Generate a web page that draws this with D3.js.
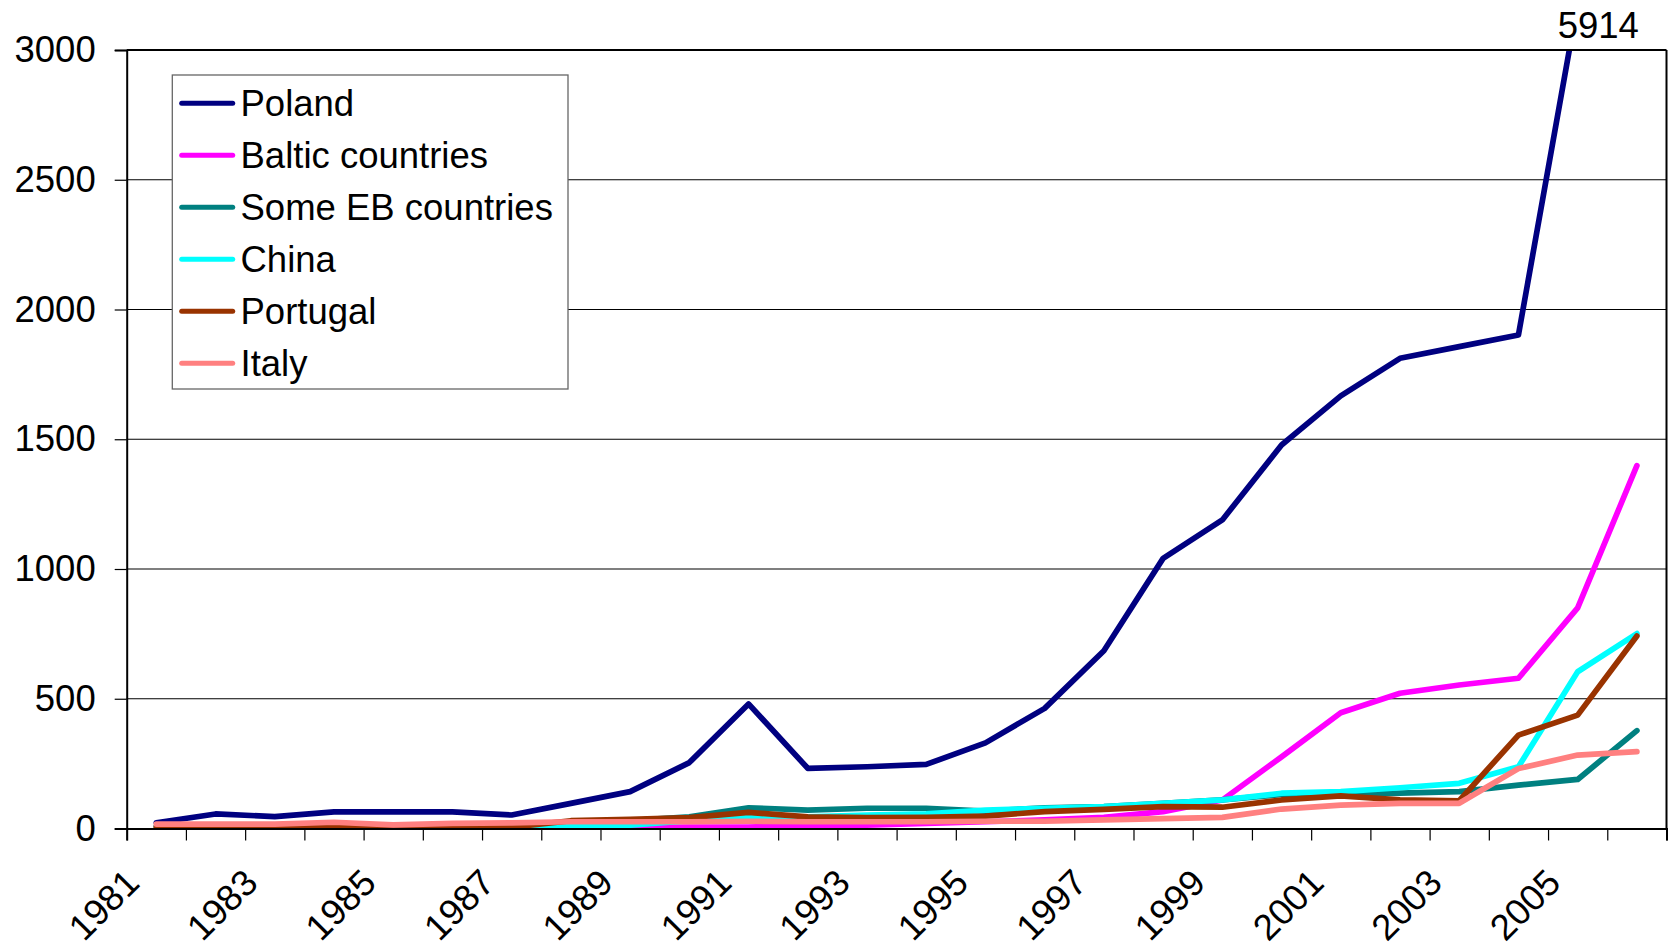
<!DOCTYPE html>
<html>
<head>
<meta charset="utf-8">
<script src="https://cdn.jsdelivr.net/npm/d3@7"></script>
<style>
  html, body { margin: 0; padding: 0; background: #fff; }
  svg { display: block; }
  text { font-family: "Liberation Sans", Arial, sans-serif; fill: #000; }
</style>
</head>
<body>
<svg id="chart" width="1668" height="948"></svg>
<script>
// ---------- data ----------
const years = ["1981","1982","1983","1984","1985","1986","1987","1988","1989","1990",
               "1991","1992","1993","1994","1995","1996","1997","1998","1999","2000",
               "2001","2002","2003","2004","2005","2006"];
const xTickLabels = ["1981","1983","1985","1987","1989","1991","1993","1995","1997","1999","2001","2003","2005"];
const yTickValues = [0, 500, 1000, 1500, 2000, 2500, 3000];

const seriesNames = ["Poland", "Baltic countries", "Some EB countries", "China", "Portugal", "Italy"];
const seriesColors = ["#000080", "#FF00FF", "#008080", "#00FFFF", "#993300", "#FF8080"];

const poland   = [22, 56, 46, 64, 64, 64, 52, 97, 142, 254, 480, 232, 238, 247, 330, 463, 685, 1041, 1189, 1478, 1667, 1812, 1857, 1902, 3180, 5914];
const baltic   = [null, null, null, null, null, null, null, 0, 3, 5, 5, 13, 13, 20, 26, 33, 43, 65, 110, 276, 446, 521, 553, 579, 850, 1398];
const someEB   = [8, 8, 8, 10, 8, 10, 10, 20, 30, 45, 80, 71, 78, 78, 67, 80, 84, 97, 110, 131, 131, 136, 142, 167, 189, 377];
const china    = [null, null, null, null, null, null, 0, 8, 13, 30, 48, 45, 52, 56, 71, 78, 84, 97, 110, 136, 142, 157, 174, 238, 604, 751];
const portugal = [5, 5, 5, 8, 5, 5, 5, 30, 35, 42, 62, 45, 42, 43, 48, 65, 74, 84, 82, 110, 126, 110, 107, 360, 437, 742];
const italy    = [17, 17, 17, 24, 14, 20, 22, 26, 26, 26, 28, 26, 26, 26, 28, 28, 33, 38, 43, 75, 90, 97, 97, 231, 283, 296];

const offScaleLabel = "5914";

const seriesValues = [poland, baltic, someEB, china, portugal, italy];

// ---------- layout ----------
const L = 126.7, R = 1666.5, T = 50, B = 828.5;
const FS = "36.5px";
const svg = d3.select("#chart");

const x = d3.scalePoint().domain(years).range([L, R]).padding(0.5);
const xEdge = d3.scaleLinear().domain([0, years.length]).range([L, R]);
const y = d3.scaleLinear().domain([0, 3000]).range([B, T]);

// gridlines
svg.append("g")
  .selectAll("line")
  .data(yTickValues.filter(v => v > 0 && v < 3000))
  .join("line")
  .attr("x1", L).attr("x2", R)
  .attr("y1", d => y(d)).attr("y2", d => y(d))
  .attr("stroke", "#000").attr("stroke-width", 1.2);

// clip
svg.append("defs").append("clipPath").attr("id", "plotClip")
  .append("rect").attr("x", L).attr("y", T).attr("width", R - L).attr("height", B - T);

// lines
const line = d3.line()
  .defined(d => d.v !== null)
  .x(d => x(d.year))
  .y(d => y(d.v));

const gLines = svg.append("g").attr("clip-path", "url(#plotClip)");
seriesValues.forEach((vals, i) => {
  const pts = years.map((yr, j) => ({ year: yr, v: vals[j] }));
  gLines.append("path")
    .attr("d", line(pts))
    .attr("fill", "none")
    .attr("stroke", seriesColors[i])
    .attr("stroke-width", 5.7)
    .attr("stroke-linecap", "round")
    .attr("stroke-linejoin", "round");
});

// plot border (top / right)
svg.append("line").attr("x1", L).attr("x2", R).attr("y1", T).attr("y2", T)
  .attr("stroke", "#000").attr("stroke-width", 2);
svg.append("line").attr("x1", R).attr("x2", R).attr("y1", T).attr("y2", B)
  .attr("stroke", "#000").attr("stroke-width", 2);

// y axis
const yAxis = d3.axisLeft(y).tickValues(yTickValues).tickSize(12).tickPadding(19).tickFormat(d3.format("d"));
const gy = svg.append("g").attr("transform", `translate(${L},0)`).call(yAxis);
gy.select(".domain").attr("stroke", "#000").attr("stroke-width", 2);
gy.selectAll(".tick line").attr("stroke", "#000").attr("stroke-width", 1.2);
gy.selectAll(".tick text")
  .style("font-family", "'Liberation Sans', Arial, sans-serif")
  .style("font-size", FS)
  .attr("fill", "#000");

// x axis (ticks at category edges)
const xAxis = d3.axisBottom(xEdge).tickValues(d3.range(years.length + 1)).tickSize(12).tickFormat("");
const gx = svg.append("g").attr("transform", `translate(0,${B})`).call(xAxis);
gx.select(".domain").attr("stroke", "#000").attr("stroke-width", 2);
gx.selectAll(".tick line").attr("stroke", "#000").attr("stroke-width", 1.2);

// rotated x labels
svg.append("g").selectAll("text")
  .data(xTickLabels)
  .join("text")
  .attr("transform", d => `translate(${x(d) - 15},${885}) rotate(-45)`)
  .attr("text-anchor", "end")
  .style("font-size", FS)
  .text(d => d);

// off-scale annotation for Poland
svg.append("text")
  .attr("x", x("2005") - 20)
  .attr("y", 37.5)
  .attr("text-anchor", "start")
  .style("font-size", FS)
  .text(offScaleLabel);

// legend
const lg = svg.append("g");
lg.append("rect")
  .attr("x", 172.3).attr("y", 75).attr("width", 395.7).attr("height", 314)
  .attr("fill", "#fff").attr("stroke", "#666").attr("stroke-width", 1.3);
seriesNames.forEach((name, i) => {
  const ry = 103.3 + 52 * i;
  lg.append("line")
    .attr("x1", 181.7).attr("x2", 232.7).attr("y1", ry).attr("y2", ry)
    .attr("stroke", seriesColors[i]).attr("stroke-width", 5).attr("stroke-linecap", "round");
  lg.append("text")
    .attr("x", 240.5).attr("y", ry + 13)
    .style("font-size", FS)
    .text(name);
});
</script>
</body>
</html>
